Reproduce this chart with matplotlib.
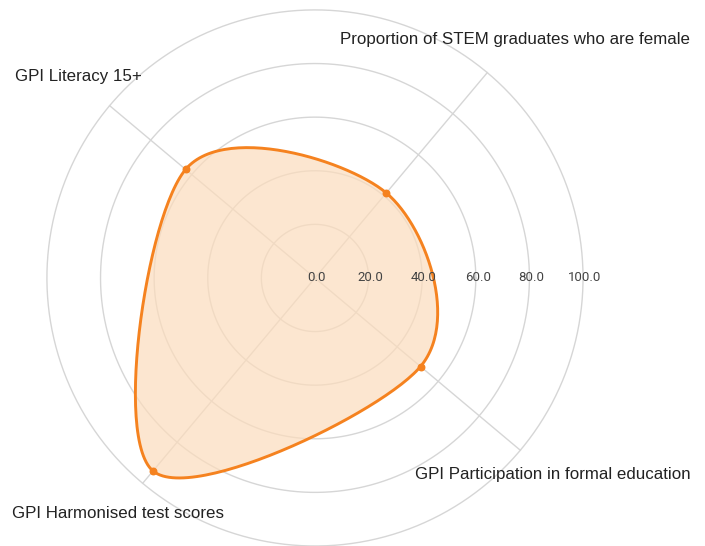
import matplotlib.pyplot as plt
import numpy as np

# radar data
categories = ["Proportion of STEM graduates who are female", "GPI Literacy 15+",
              "GPI Harmonised test scores", "GPI Participation in formal education"]
angles_deg = [50, 140, 230, 320]
values = [41.4, 63, 94, 51.4]
ticks = [0, 20, 40, 60, 80, 100]

line_col = "#f5821f"
fill_col = "#fcdcbc"
grid_col = "#d6d6d6"


def catmull_closed(px, py, n=60):
    # closed catmull-rom spline through the points
    k = len(px)
    xs, ys = [], []
    t = np.linspace(0, 1, n, endpoint=False)
    for i in range(k):
        p0 = np.array([px[i - 1], py[i - 1]])
        p1 = np.array([px[i], py[i]])
        p2 = np.array([px[(i + 1) % k], py[(i + 1) % k]])
        p3 = np.array([px[(i + 2) % k], py[(i + 2) % k]])
        m1 = (p2 - p0) / 2
        m2 = (p3 - p1) / 2
        h00 = 2 * t**3 - 3 * t**2 + 1
        h10 = t**3 - 2 * t**2 + t
        h01 = -2 * t**3 + 3 * t**2
        h11 = t**3 - t**2
        seg = (np.outer(h00, p1) + np.outer(h10, m1) + np.outer(h01, p2) + np.outer(h11, m2))
        xs.extend(seg[:, 0])
        ys.extend(seg[:, 1])
    xs.append(xs[0])
    ys.append(ys[0])
    return np.array(xs), np.array(ys)


fig = plt.figure(figsize=(7.05, 5.46), dpi=100)
ax = fig.add_axes([0, 0, 1, 1])
ax.set_xlim(-117.5, 145.5)
ax.set_ylim(-100, 103.7)
ax.axis("off")

# grid circles and spokes
th = np.linspace(0, 2 * np.pi, 400)
for r in ticks[1:]:
    ax.plot(r * np.cos(th), r * np.sin(th), color=grid_col, lw=1, zorder=1)
for a in angles_deg:
    ar = np.radians(a)
    ax.plot([0, 100 * np.cos(ar)], [0, 100 * np.sin(ar)], color=grid_col, lw=1, zorder=1)

rad = np.radians(angles_deg)
px = np.array(values) * np.cos(rad)
py = np.array(values) * np.sin(rad)
sx, sy = catmull_closed(px, py)
ax.fill(sx, sy, color=fill_col, alpha=0.7, lw=0, zorder=2)
ax.plot(sx, sy, color=line_col, lw=2.1, zorder=3)
ax.scatter(px, py, s=22, color=line_col, zorder=4)

for v in ticks:
    ax.text(v + 0.7, 0, f"{v:.1f}", ha="center", va="center", fontsize=9.5,
            color="#444444", family="Roboto", zorder=5)

lab_font = dict(fontsize=12.2, color="#222222", family="Liberation Sans", va="center")
ax.text(140, 88.8, categories[0], ha="right", **lab_font)
ax.text(-112, 75, categories[1], ha="left", **lab_font)
ax.text(-113, -88, categories[2], ha="left", **lab_font)
ax.text(140, -73.5, categories[3], ha="right", **lab_font)

fig.savefig("out.png", dpi=100)
